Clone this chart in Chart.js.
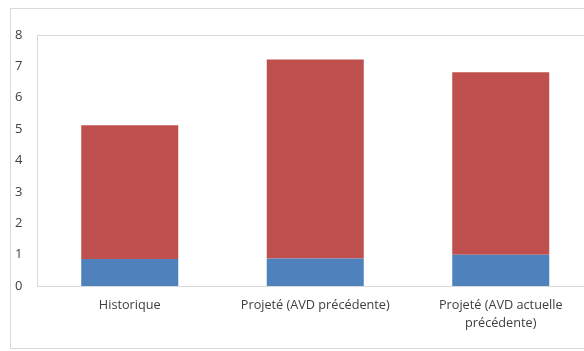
<!DOCTYPE html>
<html>
<head>
<meta charset="utf-8">
<script src="https://cdn.jsdelivr.net/npm/chart.js@4/dist/chart.umd.min.js"></script>
<style>
  html, body { margin: 0; padding: 0; background: #ffffff; overflow: hidden; }
  body { width: 584px; height: 351px; position: relative; }
  #wrap { position: absolute; left: 10px; top: 8px; width: 600px; height: 341px; }
</style>
</head>
<body>
<div id="wrap"><canvas id="chart" width="600" height="341"></canvas></div>
<script>
// Categories and stacked segments
const categories = [
  'Historique',
  'Projeté (AVD précédente)',
  ['Projeté (AVD actuelle', 'précédente)']
];
const baseValues = [0.86, 0.88, 1.0];
const upperValues = [4.26, 6.34, 5.81];
const yTicks = [0, 1, 2, 3, 4, 5, 6, 7, 8];

const textColor = '#404040';
const frameColor = '#d9d9d9';
const fontFamily = '"Open Sans", "DejaVu Sans", sans-serif';

// Outer chart frame and plot-area frame
const framePlugin = {
  id: 'frames',
  beforeDraw(chart) {
    const ctx = chart.ctx;
    ctx.save();
    ctx.strokeStyle = frameColor;
    ctx.lineWidth = 1;
    ctx.strokeRect(0.5, 0.5, chart.width - 1, chart.height - 1);
    const a = chart.chartArea;
    ctx.strokeRect(Math.round(a.left) + 0.5, Math.round(a.top) + 0.5,
                   Math.round(a.right - a.left), Math.round(a.bottom - a.top));
    ctx.restore();
  }
};

new Chart(document.getElementById('chart'), {
  type: 'bar',
  data: {
    labels: categories,
    datasets: [
      { label: 'Base', data: baseValues, backgroundColor: '#4f81bd', stack: 's' },
      { label: 'Hausse', data: upperValues, backgroundColor: '#c0504d', stack: 's' }
    ]
  },
  options: {
    responsive: false,
    animation: false,
    devicePixelRatio: 1,
    layout: { padding: { left: 5, top: 27, right: 16.5, bottom: 0 } },
    plugins: { legend: { display: false }, tooltip: { enabled: false } },
    datasets: { bar: { categoryPercentage: 1, barPercentage: 0.523 } },
    scales: {
      x: {
        stacked: true,
        grid: { display: false, drawTicks: false },
        border: { display: false },
        ticks: {
          color: textColor,
          font: { family: fontFamily, size: 12.7, lineHeight: 1.42 },
          padding: 10,
          maxRotation: 0,
          autoSkip: false
        },
        afterFit(scale) { scale.height = 63; }
      },
      y: {
        stacked: true,
        min: 0,
        max: 8,
        grid: { display: false, drawTicks: false },
        border: { display: false },
        afterBuildTicks(scale) { scale.ticks = yTicks.map(v => ({ value: v })); },
        ticks: {
          color: textColor,
          font: { family: fontFamily, size: 13 },
          crossAlign: 'far',
          padding: 0
        },
        afterFit(scale) { scale.width = 22; }
      }
    }
  },
  plugins: [framePlugin]
});
</script>
</body>
</html>
